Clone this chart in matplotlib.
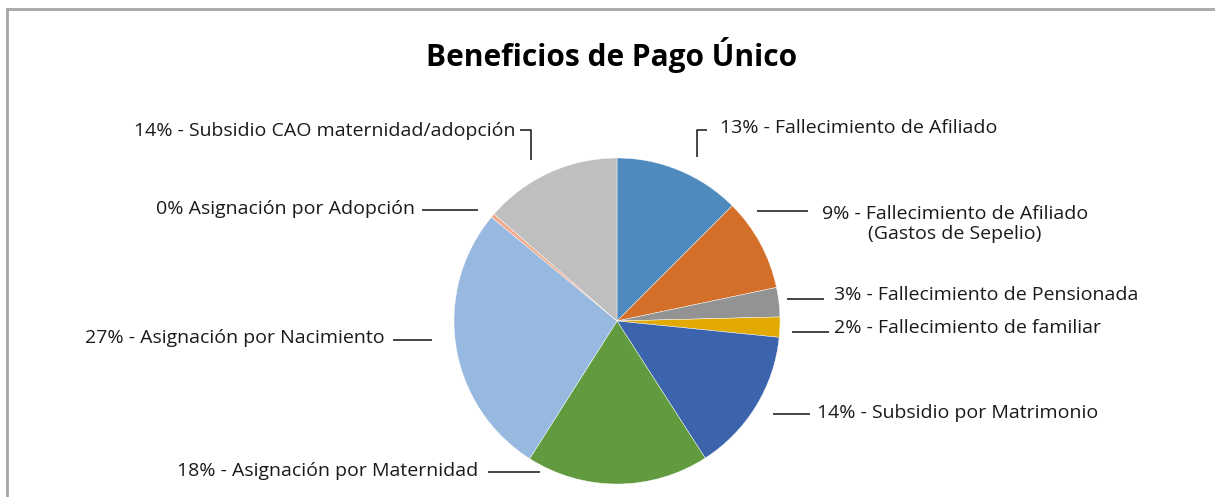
import matplotlib.pyplot as plt
from matplotlib.lines import Line2D

# slice shares (%), clockwise from 12 o'clock
categories = [
    "Fallecimiento de Afiliado",
    "Fallecimiento de Afiliado (Gastos de Sepelio)",
    "Fallecimiento de Pensionada",
    "Fallecimiento de familiar",
    "Subsidio por Matrimonio",
    "Asignación por Maternidad",
    "Asignación por Nacimiento",
    "Asignación por Adopción",
    "Subsidio CAO maternidad/adopción",
]
shares = [12.5, 9.2, 2.9, 2.0, 14.3, 18.1, 27.0, 0.4, 13.6]
labels = [
    "13% - Fallecimiento de Afiliado",
    "9% - Fallecimiento de Afiliado\n(Gastos de Sepelio)",
    "3% - Fallecimiento de Pensionada",
    "2% - Fallecimiento de familiar",
    "14% - Subsidio por Matrimonio",
    "18% - Asignación por Maternidad",
    "27% - Asignación por Nacimiento",
    "0% Asignación por Adopción",
    "14% - Subsidio CAO maternidad/adopción",
]
colors = ["#4F8ABE", "#D46F2A", "#939393", "#E2AA00", "#3C64AC",
          "#629A3F", "#97B9E0", "#F0A98A", "#BFBFBF"]

W, H = 1215, 497
fig = plt.figure(figsize=(W / 100, H / 100), dpi=100)
ax = fig.add_axes([0, 0, 1, 1])

cx, cy, r = 617, 321, 163
# y axis is flipped below, so counterclock in data = clockwise on screen
ax.pie(shares, colors=colors, startangle=-90, counterclock=True,
       center=(cx, cy), radius=r,
       wedgeprops=dict(edgecolor="white", linewidth=0.3))
ax.set_xlim(0, W)
ax.set_ylim(H, 0)
ax.set_aspect("equal")
ax.axis("off")

font = "Open Sans"
tc = "#1a1a1a"
lc = "#262626"

# label layout: (x, y, ha) and leader polyline in pixel coords
lab_pos = [
    (720, 128, "left"),
    (955, 224, "center"),
    (834, 295, "left"),
    (834, 328, "left"),
    (817, 413, "left"),
    (478, 471, "right"),
    (385, 338, "right"),
    (415, 209, "right"),
    (515, 131, "right"),
]
leaders = [
    [(697, 157), (697, 130), (707, 130)],
    [(757, 211), (808, 211)],
    [(787, 299), (824, 299)],
    [(792, 332), (829, 332)],
    [(773, 414), (810, 414)],
    [(488, 472), (540, 472)],
    [(393, 340), (432, 340)],
    [(422, 210), (478, 210)],
    [(520, 130), (531, 130), (531, 160)],
]

for txt, (x, y, ha), pts in zip(labels, lab_pos, leaders):
    ax.text(x, y, txt, ha=ha, va="center", multialignment="center",
            fontsize=14, family=font, color=tc, linespacing=1.2)
    xs = [p[0] for p in pts]
    ys = [p[1] for p in pts]
    ax.add_line(Line2D(xs, ys, color=lc, lw=1.2, solid_capstyle="butt"))

ax.text(612, 55, "Beneficios de Pago Único", ha="center", va="center",
        fontsize=21.5, fontweight="bold", family=font, color="#000000")

# chart frame (only top and left edges visible)
ax.add_line(Line2D([7, W], [9, 9], color="#A6A6A6", lw=2))
ax.add_line(Line2D([7, 7], [9, H], color="#A6A6A6", lw=2))

fig.savefig("out.png", dpi=100, facecolor="white")
